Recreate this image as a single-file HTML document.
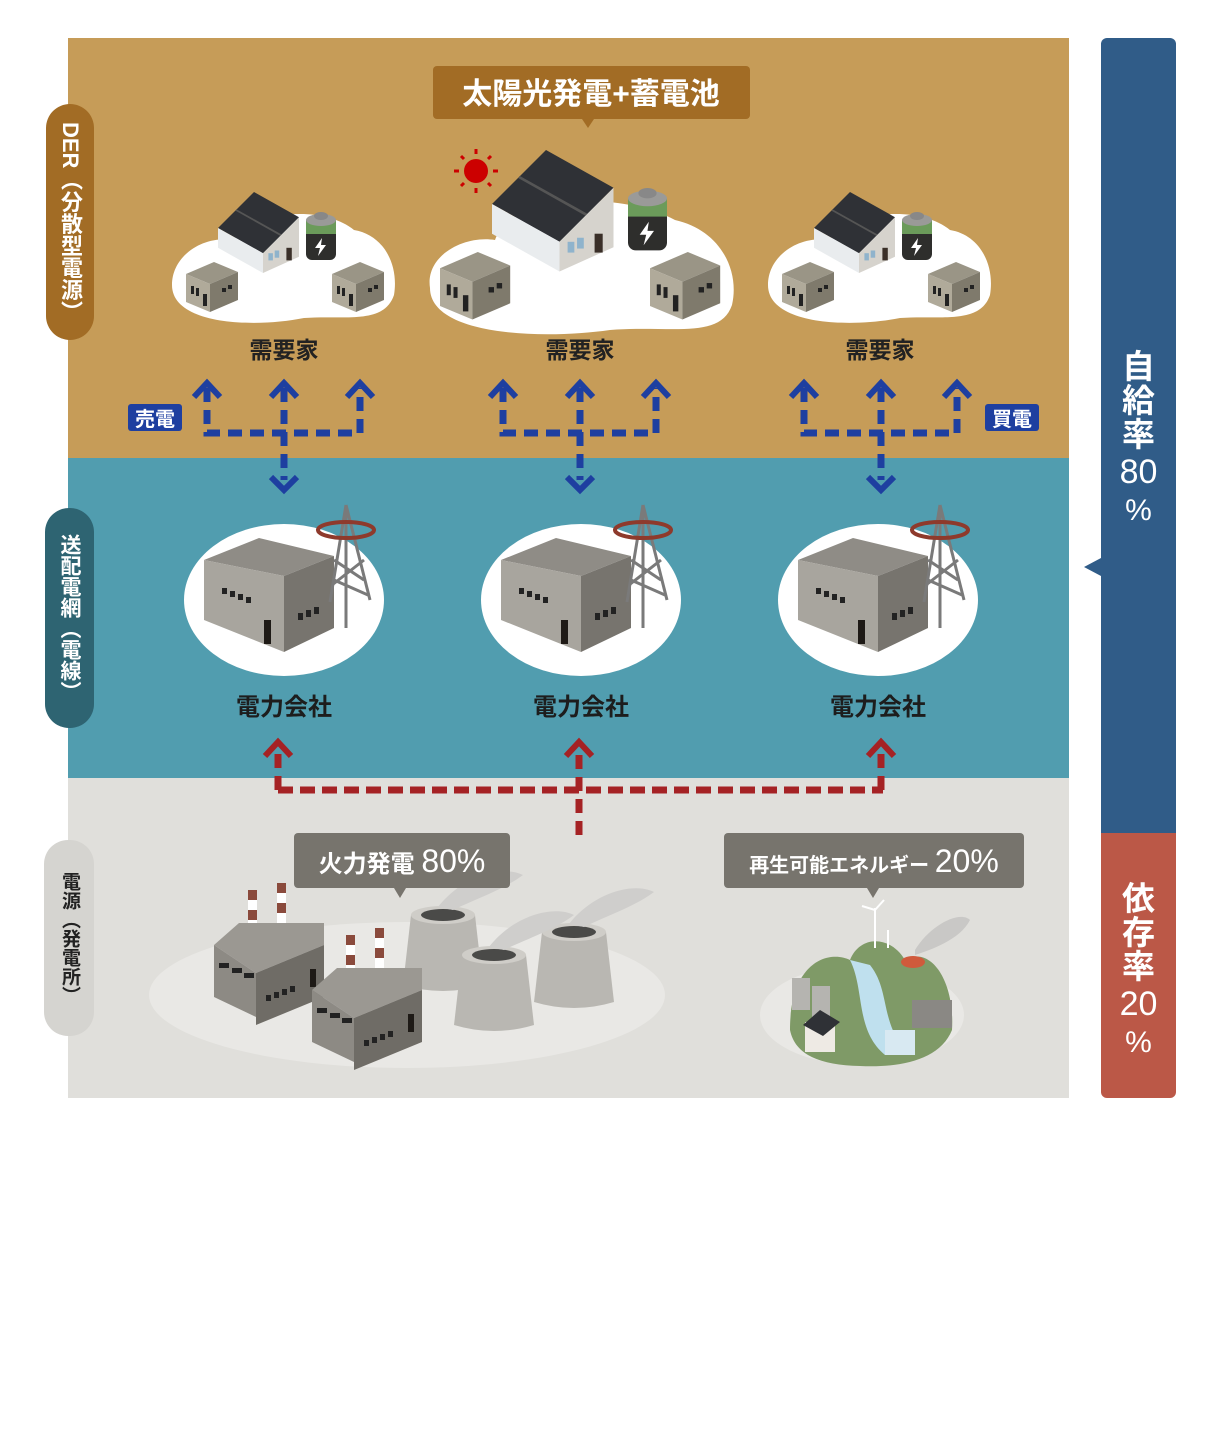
<!DOCTYPE html>
<html><head><meta charset="utf-8"><style>
html,body{margin:0;padding:0;background:#fff;}
body{width:1221px;height:1441px;position:relative;overflow:hidden;font-family:"Liberation Sans","Noto Sans CJK JP",sans-serif;}
.v{position:absolute;writing-mode:vertical-rl;text-orientation:mixed;white-space:nowrap;text-align:center;font-weight:bold;}
svg text{font-family:"Liberation Sans","Noto Sans CJK JP",sans-serif;}
</style></head><body>
<svg width="1221" height="1441" viewBox="0 0 1221 1441" style="position:absolute;left:0;top:0">
<defs>
<g id="shed">
 <polygon points="0,12 28,0 52,10 24,22" fill="#9a9586"/>
 <polygon points="0,12 24,22 24,50 0,40" fill="#b0aa9a"/>
 <polygon points="24,22 52,10 52,38 24,50" fill="#7f7a6c"/>
 <rect x="5" y="24" width="3" height="8" fill="#222"/><rect x="10" y="26" width="3" height="8" fill="#222"/>
 <rect x="17" y="32" width="4" height="12" fill="#222"/>
 <rect x="36" y="26" width="4" height="4" fill="#222"/><rect x="42" y="23" width="4" height="4" fill="#222"/>
</g>
<g id="house">
 <polygon points="0,40 40,0 90,28 50,68" fill="#2f3136"/>
 <line x1="20" y1="20" x2="70" y2="48" stroke="#555" stroke-width="2"/>
 <polygon points="0,40 50,68 50,90 0,62" fill="#e9ecee"/>
 <polygon points="50,68 90,28 90,72 50,90" fill="#d6d3cd"/>
 <rect x="56" y="68" width="5" height="8" fill="#8fb3cc"/><rect x="63" y="65" width="5" height="8" fill="#8fb3cc"/>
 <rect x="76" y="62" width="6" height="14" fill="#3a2f28"/>
</g>
<g id="batt">
 <rect x="0" y="8" width="30" height="40" rx="6" fill="#2e2e2c"/>
 <rect x="0" y="8" width="30" height="14" fill="#6b9b5a"/>
 <ellipse cx="15" cy="8" rx="15" ry="6" fill="#9a9a98"/>
 <ellipse cx="15" cy="4" rx="7" ry="4" fill="#888"/>
 <polygon points="16,26 9,36 14,36 12,44 20,33 15,33" fill="#fff"/>
</g>
<g id="comp">
 <ellipse cx="0" cy="0" rx="100" ry="76" fill="#fff"/>
 <polygon points="-80,-40 -25,-62 50,-44 0,-24" fill="#8f8c86"/>
 <polygon points="-80,-40 0,-24 0,52 -80,20" fill="#a8a59e"/>
 <polygon points="0,-24 50,-44 50,28 0,52" fill="#77746e"/>
 <rect x="-62" y="-12" width="5" height="6" fill="#222"/><rect x="-54" y="-9" width="5" height="6" fill="#222"/><rect x="-46" y="-6" width="5" height="6" fill="#222"/><rect x="-38" y="-3" width="5" height="6" fill="#222"/>
 <rect x="-20" y="20" width="7" height="24" fill="#1e1a16"/>
 <rect x="14" y="13" width="5" height="7" fill="#222"/><rect x="22" y="10" width="5" height="7" fill="#222"/><rect x="30" y="7" width="5" height="7" fill="#222"/>
 <g stroke="#7a7a7a" stroke-width="3" fill="none">
  <line x1="62" y1="-95" x2="46" y2="2"/><line x1="62" y1="-95" x2="86" y2="0"/><line x1="62" y1="-95" x2="62" y2="28"/>
  <line x1="50" y1="-40" x2="80" y2="-20"/><line x1="80" y1="-40" x2="48" y2="-15"/><line x1="50" y1="-20" x2="84" y2="-5"/>
 </g>
 <ellipse cx="62" cy="-70" rx="28" ry="8" fill="none" stroke="#8e3a2c" stroke-width="4"/>
</g>
<g id="fact">
 <rect x="34" y="-55" width="9" height="45" fill="#fff"/><rect x="34" y="-55" width="9" height="10" fill="#8a4a3c"/><rect x="34" y="-35" width="9" height="10" fill="#8a4a3c"/>
 <rect x="63" y="-62" width="9" height="45" fill="#fff"/><rect x="63" y="-62" width="9" height="10" fill="#8a4a3c"/><rect x="63" y="-42" width="9" height="10" fill="#8a4a3c"/>
 <polygon points="0,0 25,-22 110,-22 110,0 42,28" fill="#9b9892"/>
 <polygon points="0,0 42,28 42,72 0,52" fill="#8d8a84"/>
 <polygon points="42,28 110,0 110,52 42,80" fill="#6f6c66"/>
 <rect x="5" y="18" width="10" height="5" fill="#222"/><rect x="18" y="23" width="10" height="5" fill="#222"/><rect x="30" y="28" width="10" height="5" fill="#222"/>
 <rect x="52" y="50" width="5" height="6" fill="#222"/><rect x="60" y="47" width="5" height="6" fill="#222"/><rect x="68" y="44" width="5" height="6" fill="#222"/><rect x="76" y="41" width="5" height="6" fill="#222"/>
 <rect x="96" y="24" width="6" height="18" fill="#1e1a16"/>
</g>
<g id="tower">
 <path d="M-32,0 L32,0 L40,70 Q0,82 -40,70 Z" fill="#b9b7b2"/>
 <ellipse cx="0" cy="0" rx="32" ry="9" fill="#cfcdc8"/>
 <ellipse cx="0" cy="0" rx="22" ry="6" fill="#4a4a48"/>
 <path d="M-5,-8 C20,-40 60,-50 80,-40 C60,-25 30,-15 10,-5 Z" fill="#cfcecc"/>
</g>
</defs>

<rect x="68" y="38" width="1001" height="420" fill="#C69C58"/>
<rect x="68" y="458" width="1001" height="320" fill="#519DAF"/>
<rect x="68" y="778" width="1001" height="320" fill="#E0DFDB"/>

<path d="M1107,38 H1170 a6,6 0 0 1 6,6 V833 H1101 V44 a6,6 0 0 1 6,-6 Z" fill="#305C88"/>
<path d="M1101,833 H1176 V1092 a6,6 0 0 1 -6,6 H1107 a6,6 0 0 1 -6,-6 Z" fill="#BB5847"/>
<polygon points="1101,558 1084,567 1101,576" fill="#305C88"/>

<rect x="46" y="104" width="48" height="236" rx="24" fill="#A26C25"/>
<rect x="45" y="508" width="49" height="220" rx="24" fill="#2E6472"/>
<rect x="44" y="840" width="50" height="196" rx="24" fill="#D5D4D0"/>

<g transform="translate(284,260)">
 <path d="M-112,25 C-112,-5 -80,-25 -50,-20 C-30,-50 40,-55 70,-30 C100,-25 115,5 110,35 C100,65 60,55 20,58 C-30,68 -112,65 -112,25 Z" fill="#fff"/>
 <use href="#house" transform="translate(-66,-68) scale(0.9)"/>
 <use href="#batt" transform="translate(22,-48)"/>
 <use href="#shed" transform="translate(-98,2)"/>
 <use href="#shed" transform="translate(48,2)"/>
</g>
<g transform="translate(580,260)">
 <path d="M-150,28 C-155,-5 -115,-25 -85,-20 C-70,-65 40,-70 95,-40 C140,-30 160,10 152,45 C140,80 90,65 30,70 C-40,80 -150,75 -150,28 Z" fill="#fff"/>
 <use href="#house" transform="translate(-88,-110) scale(1.35)"/>
 <use href="#batt" transform="translate(48,-72) scale(1.3)"/>
 <use href="#shed" transform="translate(-140,-8) scale(1.35)"/>
 <use href="#shed" transform="translate(70,-8) scale(1.35)"/>
</g>
<g transform="translate(880,260)">
 <path d="M-112,25 C-112,-5 -80,-25 -50,-20 C-30,-50 40,-55 70,-30 C100,-25 115,5 110,35 C100,65 60,55 20,58 C-30,68 -112,65 -112,25 Z" fill="#fff"/>
 <use href="#house" transform="translate(-66,-68) scale(0.9)"/>
 <use href="#batt" transform="translate(22,-48)"/>
 <use href="#shed" transform="translate(-98,2)"/>
 <use href="#shed" transform="translate(48,2)"/>
</g>
<g transform="translate(476,171)">
 <circle r="12" fill="#c00"/>
 <g stroke="#c00" stroke-width="3"><line x1="0" y1="-22" x2="0" y2="-17"/><line x1="0" y1="22" x2="0" y2="17"/><line x1="-22" y1="0" x2="-17" y2="0"/><line x1="22" y1="0" x2="17" y2="0"/><line x1="-15" y1="-15" x2="-12" y2="-12"/><line x1="15" y1="15" x2="12" y2="12"/><line x1="-15" y1="15" x2="-12" y2="12"/><line x1="15" y1="-15" x2="12" y2="-12"/></g>
</g>

<rect x="433" y="66" width="317" height="53" rx="4" fill="#A26C25"/>
<polygon points="582,119 594,119 588,128" fill="#A26C25"/>
<text x="591" y="104" fill="#fff" font-size="30" font-weight="bold" text-anchor="middle">太陽光発電+蓄電池</text>

<g font-size="23" font-weight="bold" fill="#222" text-anchor="middle">
<text x="284" y="358">需要家</text><text x="580" y="358">需要家</text><text x="880" y="358">需要家</text>
</g>

<g id="barr" stroke="#1E3FA0" stroke-width="7" fill="none">
 <path d="M207,388 V433 H360 V388 M284,388 V480" stroke-dasharray="14,8"/>
 <path d="M194,397 L207,383 L220,397 M271,397 L284,383 L297,397 M347,397 L360,383 L373,397 M271,477 L284,490 L297,477" stroke-width="6"/>
</g>
<use href="#barr" transform="translate(296,0)"/>
<use href="#barr" transform="translate(597,0)"/>
<rect x="128" y="404" width="54" height="27" rx="3" fill="#1E3FA0"/>
<text x="155" y="426" fill="#fff" font-size="20" font-weight="bold" text-anchor="middle">売電</text>
<rect x="985" y="404" width="54" height="27" rx="3" fill="#1E3FA0"/>
<text x="1012" y="426" fill="#fff" font-size="20" font-weight="bold" text-anchor="middle">買電</text>

<use href="#comp" transform="translate(284,600)"/>
<use href="#comp" transform="translate(581,600)"/>
<use href="#comp" transform="translate(878,600)"/>
<g font-size="24" font-weight="bold" fill="#1d1d1d" text-anchor="middle">
<text x="284" y="715">電力会社</text><text x="581" y="715">電力会社</text><text x="878" y="715">電力会社</text>
</g>

<g stroke="#A52224" stroke-width="7" fill="none">
 <path d="M278,790 H883" stroke-dasharray="15,7"/>
 <path d="M278,790 V750 M579,835 V750 M881,790 V750" stroke-dasharray="14,8"/>
 <path d="M265,756 L278,742 L291,756 M566,756 L579,742 L592,756 M868,756 L881,742 L894,756" stroke-width="6"/>
</g>

<ellipse cx="407" cy="995" rx="258" ry="73" fill="#e9e8e5"/>
<use href="#tower" transform="translate(443,915)"/>
<use href="#tower" transform="translate(574,932)"/>
<use href="#tower" transform="translate(494,955)"/>
<use href="#fact" transform="translate(214,945)"/>
<use href="#fact" transform="translate(312,990)"/>
<rect x="294" y="833" width="216" height="55" rx="4" fill="#77746D"/>
<polygon points="394,888 406,888 400,898" fill="#77746D"/>
<text x="402" y="872" fill="#fff" font-size="24" font-weight="bold" text-anchor="middle">火力発電 <tspan font-size="32" font-weight="normal">80%</tspan></text>

<ellipse cx="862" cy="1015" rx="102" ry="50" fill="#e9e8e5"/>
<path d="M790,1030 C790,960 830,950 850,960 C860,935 890,935 905,960 C930,945 955,980 952,1030 C940,1060 900,1068 860,1066 C820,1065 795,1055 790,1030 Z" fill="#7f9a67"/>
<path d="M850,960 C865,990 855,1030 885,1055 L905,1050 C880,1020 890,990 870,965 Z" fill="#bfe0ee"/>
<ellipse cx="913" cy="962" rx="12" ry="6" fill="#d05a3c"/>
<path d="M915,950 C930,925 960,910 970,920 C960,940 930,950 915,955 Z" fill="#c9c8c6"/>
<g stroke="#fff" stroke-width="2"><line x1="875" y1="948" x2="875" y2="908"/><line x1="875" y1="910" x2="862" y2="906"/><line x1="875" y1="910" x2="884" y2="900"/><line x1="888" y1="948" x2="888" y2="930"/></g>
<rect x="792" y="978" width="18" height="32" fill="#b5b4b0"/><rect x="812" y="986" width="18" height="32" fill="#b5b4b0"/>
<rect x="805" y="1022" width="30" height="30" fill="#eeeae4"/><polygon points="803,1025 820,1010 840,1022 823,1036" fill="#2f3136"/>
<rect x="912" y="1000" width="40" height="28" fill="#8a8884"/>
<rect x="885" y="1030" width="30" height="25" fill="#d8e9f2"/>
<rect x="724" y="833" width="300" height="55" rx="4" fill="#77746D"/>
<polygon points="867,888 879,888 873,898" fill="#77746D"/>
<text x="874" y="872" fill="#fff" font-size="20" font-weight="bold" text-anchor="middle">再生可能エネルギー <tspan font-size="32" font-weight="normal">20%</tspan></text>
</svg>

<div class="v" style="left:46px;top:104px;width:48px;height:236px;line-height:48px;color:#fff;font-size:22px;">DER（分散型電源）</div>
<div class="v" style="left:45px;top:508px;width:49px;height:220px;line-height:49px;color:#fff;font-size:21px;">送配電網（電線）</div>
<div class="v" style="left:44px;top:840px;width:50px;height:196px;line-height:50px;color:#222;font-size:19px;">電源（発電所）</div>

<div style="position:absolute;left:1101px;top:350px;width:75px;text-align:center;color:#fff;font-size:33px;font-weight:bold;line-height:34px;">自<br>給<br>率<br><span style="font-weight:normal;font-size:34px;line-height:40px">80</span><br><span style="font-weight:normal;font-size:30px">%</span></div>
<div style="position:absolute;left:1101px;top:882px;width:75px;text-align:center;color:#fff;font-size:33px;font-weight:bold;line-height:34px;">依<br>存<br>率<br><span style="font-weight:normal;font-size:34px;line-height:40px">20</span><br><span style="font-weight:normal;font-size:30px">%</span></div>
</body></html>
